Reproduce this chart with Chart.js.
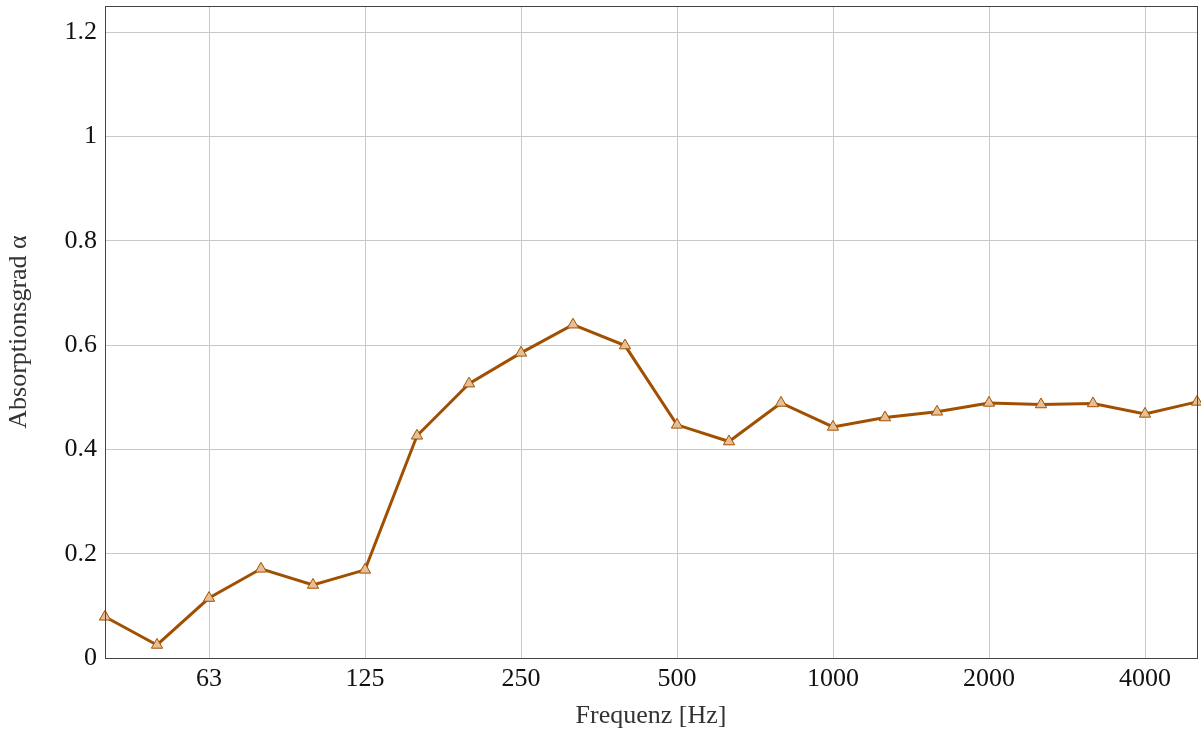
<!DOCTYPE html>
<html>
<head>
<meta charset="utf-8">
<script src="https://cdn.jsdelivr.net/npm/chart.js@4/dist/chart.umd.min.js"></script>
<style>
html,body{margin:0;padding:0;background:#fff;}
#wrap{width:1201px;height:736px;position:relative;}
</style>
</head>
<body>
<div id="wrap"><canvas id="c" width="1201" height="736"></canvas></div>
<script>
const frequencies = ["40","50","63","80","100","125","160","200","250","315","400","500","630","800","1000","1250","1600","2000","2500","3150","4000","5000"];
const absorption = [0.079,0.025,0.115,0.171,0.140,0.169,0.426,0.526,0.585,0.639,0.599,0.447,0.415,0.489,0.443,0.461,0.472,0.489,0.486,0.488,0.468,0.491];
const labeledTicks = ["63","125","250","500","1000","2000","4000"];
const yTicks = [0,0.2,0.4,0.6,0.8,1,1.2];

const FONT = "'Liberation Serif', 'DejaVu Serif', serif";
const boxPlugin = {
  id:'box',
  afterDraw(chart){
    const a = chart.chartArea, ctx = chart.ctx;
    ctx.save();
    ctx.strokeStyle = '#444';
    ctx.lineWidth = 1;
    ctx.strokeRect(Math.round(a.left)+0.5, Math.round(a.top)+0.5, Math.round(a.right-a.left), Math.round(a.bottom-a.top));
    ctx.restore();
  }
};

new Chart(document.getElementById('c'), {
  type:'line',
  data:{
    labels: frequencies,
    datasets:[{
      data: absorption,
      borderColor:'#a05000',
      borderWidth:3,
      pointStyle:'triangle',
      pointRadius:6.5,
      pointBackgroundColor:'#e6bf96',
      pointBorderColor:'#a05000',
      pointBorderWidth:1,
      tension:0,
      clip:false
    }]
  },
  options:{
    responsive:false,
    animation:false,
    layout:{autoPadding:false,padding:{left:0,top:6,right:4,bottom:0}},
    plugins:{legend:{display:false},tooltip:{enabled:false}},
    scales:{
      x:{
        type:'category',
        offset:false,
        border:{display:false},
        grid:{
          drawTicks:false,
          color:(ctx)=> (ctx.tick && labeledTicks.includes(frequencies[ctx.index])) ? '#c8c8c8' : 'rgba(0,0,0,0)',
          lineWidth:1
        },
        ticks:{
          autoSkip:false,
          maxRotation:0,
          padding:6,
          color:'#111',
          font:{family:FONT,size:26},
          callback:(v,i)=> labeledTicks.includes(frequencies[i]) ? frequencies[i] : ''
        },
        title:{display:true,text:'Frequenz [Hz]',color:'#333',font:{family:FONT,size:26},padding:{top:4,bottom:4}},
        afterFit:(s)=>{ s.height = 78; s.paddingLeft = 0; s.paddingRight = 0; }
      },
      y:{
        min:0,max:1.25,
        border:{display:false},
        afterBuildTicks:(s)=>{ s.ticks = yTicks.map(v=>({value:v})); },
        grid:{drawTicks:false,color:'#c8c8c8',lineWidth:1},
        ticks:{
          padding:8,
          color:'#111',
          font:{family:FONT,size:26},
          callback:(v)=> String(Math.round(v*10)/10)
        },
        title:{display:true,text:'Absorptionsgrad α',color:'#333',font:{family:FONT,size:26},padding:{top:4,bottom:4}},
        afterFit:(s)=>{ s.width = 105; s.paddingTop = 0; s.paddingBottom = 0; }
      }
    }
  },
  plugins:[boxPlugin]
});
</script>
</body>
</html>
